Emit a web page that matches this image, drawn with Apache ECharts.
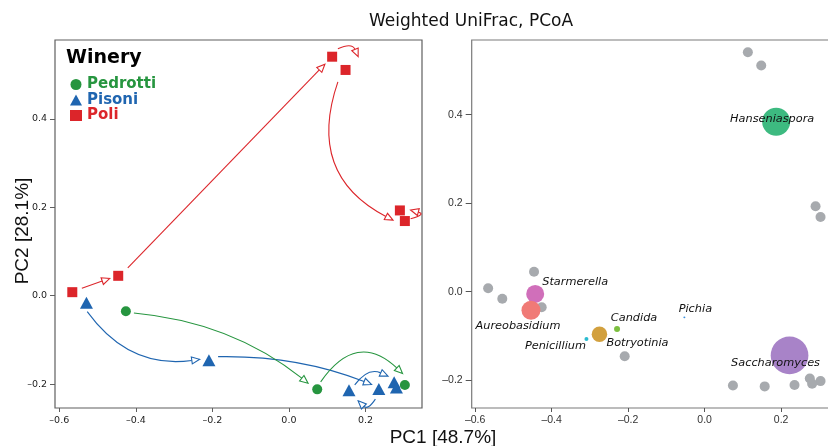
<!DOCTYPE html>
<html>
<head>
<meta charset="utf-8">
<script src="https://cdn.jsdelivr.net/npm/echarts@6/dist/echarts.min.js"></script>
<style>
  html, body { margin: 0; padding: 0; background: #fff; }
  #chart { width: 828px; height: 446px; }
</style>
</head>
<body>
<div id="chart"></div>
<script>
// samples per winery, [PC1, PC2]
const pedrotti = [[-0.426, -0.035], [0.074, -0.212], [0.303, -0.202]];
const pisoni = [[-0.529, -0.016], [-0.209, -0.146], [0.157, -0.214], [0.235, -0.211], [0.275, -0.196], [0.281, -0.208]];
const poli = [[-0.566, 0.008], [-0.446, 0.045], [0.113, 0.541], [0.148, 0.511], [0.290, 0.193], [0.303, 0.169]];

// trajectory arrows: [fromPC1, fromPC2, toPC1, toPC2, curveness]
const pedrottiArrows = [[-0.405, -0.039, 0.050, -0.198, 0.15], [0.083, -0.195, 0.297, -0.176, 0.58]];
const pisoniArrows = [[-0.527, -0.036, -0.233, -0.144, -0.3], [-0.185, -0.138, 0.216, -0.201, 0.1],
  [0.172, -0.202, 0.259, -0.182, 0.4], [0.226, -0.234, 0.181, -0.238, 0.6]];
const poliArrows = [[-0.541, 0.017, -0.468, 0.039, 0], [-0.421, 0.063, 0.094, 0.524, 0],
  [0.128, 0.559, 0.181, 0.541, 0.5], [0.128, 0.484, 0.272, 0.171, -0.43], [0.318, 0.174, 0.318, 0.194, -1.8]];

// genus biplot
const genusNames = ['Hanseniaspora', 'Starmerella', 'Aureobasidium', 'Candida', 'Botryotinia', 'Penicillium', 'Pichia', 'Saccharomyces'];
const genusPC1 = [0.187, -0.443, -0.454, -0.229, -0.275, -0.309, -0.053, 0.222];
const genusPC2 = [0.384, -0.005, -0.042, -0.084, -0.096, -0.107, -0.058, -0.144];
const genusAbundance = [0.218, 0.09, 0.1, 0.01, 0.067, 0.0044, 0.0011, 0.395];

const pc1Ticks = [-0.6, -0.4, -0.2, 0.0, 0.2];
const pc2Ticks = [-0.2, 0.0, 0.2, 0.4];

const RED = '#dc252a', BLUE = '#1f65b0', GREEN = '#26953f', GREY = '#a7aaae';
const genusColors = {
  Hanseniaspora: '#3dba80', Starmerella: '#d06fba', Aureobasidium: '#f07a76', Candida: '#7cbf3f',
  Botryotinia: '#d2a03e', Penicillium: '#2bbbd0', Pichia: '#3b90e0', Saccharomyces: '#a883c8'
};
const labelOffsets = {
  Hanseniaspora: [-4, -3], Starmerella: [40, -12], Aureobasidium: [-13, 16], Candida: [17, -10.5],
  Botryotinia: [38, 8.5], Penicillium: [-31, 7], Pichia: [11, -8], Saccharomyces: [-14, 8]
};

const fmtTick = v => (v < 0 ? '\u2013' : '') + Math.abs(v).toFixed(1);

function arrowItem(color) {
  return function (params, api) {
    const p1 = api.coord([api.value(0), api.value(1)]);
    const p2 = api.coord([api.value(2), api.value(3)]);
    const c = api.value(4);
    const cp = [(p1[0] + p2[0]) / 2 + (p2[1] - p1[1]) * c, (p1[1] + p2[1]) / 2 - (p2[0] - p1[0]) * c];
    let dx = p2[0] - cp[0], dy = p2[1] - cp[1];
    const len = Math.hypot(dx, dy) || 1;
    dx /= len; dy /= len;
    const L = 8, W = 3.5;
    const bx = p2[0] - dx * L, by = p2[1] - dy * L;
    return {
      type: 'group',
      children: [
        { type: 'bezierCurve', shape: { x1: p1[0], y1: p1[1], x2: bx, y2: by, cpx1: cp[0], cpy1: cp[1] },
          style: { stroke: color, lineWidth: 1.1, fill: null } },
        { type: 'polygon', shape: { points: [[p2[0], p2[1]], [bx - dy * W, by + dx * W], [bx + dy * W, by - dx * W]] },
          style: { fill: '#fff', stroke: color, lineWidth: 1.1 } }
      ]
    };
  };
}

function arrowSeries(data, color) {
  return {
    type: 'custom', xAxisIndex: 0, yAxisIndex: 0, renderItem: arrowItem(color),
    data: data, encode: { x: [0, 2], y: [1, 3] }, silent: true, z: 1
  };
}

const chart = echarts.init(document.getElementById('chart'));

const leftAxisLabel = { formatter: fmtTick, fontFamily: 'DejaVu Sans', fontSize: 9.5, color: '#222' };
const rightAxisLabel = { formatter: fmtTick, fontFamily: 'Liberation Sans', fontSize: 10.5, color: '#333' };
const noLine = { show: false, onZero: false };

chart.setOption({
  animation: false,
  grid: [
    { left: 55, top: 40, width: 367, height: 368, show: true, borderColor: '#5f5f5f', borderWidth: 1.2, outerBoundsMode: 'none' },
    { left: 471.7, top: 40, width: 367, height: 368, show: true, borderColor: '#7a7a7a', borderWidth: 1.2, outerBoundsMode: 'none' }
  ],
  xAxis: [
    { type: 'value', gridIndex: 0, min: -0.6112, max: 0.3478, splitLine: { show: false },
      axisLine: noLine,
      axisTick: { customValues: pc1Ticks, length: 4, lineStyle: { color: '#5f5f5f' } },
      axisLabel: Object.assign({}, leftAxisLabel, { customValues: pc1Ticks, margin: 8 }) },
    { type: 'value', gridIndex: 1, min: -0.609, max: 0.3505, splitLine: { show: false },
      axisLine: noLine,
      axisTick: { customValues: pc1Ticks, length: 4, lineStyle: { color: '#555' } },
      axisLabel: Object.assign({}, rightAxisLabel, { customValues: pc1Ticks, margin: 7 }) }
  ],
  yAxis: [
    { type: 'value', gridIndex: 0, min: -0.2542, max: 0.5788, splitLine: { show: false },
      axisLine: noLine,
      axisTick: { customValues: pc2Ticks, length: 5, lineStyle: { color: '#5f5f5f' } },
      axisLabel: Object.assign({}, leftAxisLabel, { customValues: pc2Ticks, margin: 8 }) },
    { type: 'value', gridIndex: 1, min: -0.2628, max: 0.5688, splitLine: { show: false },
      axisLine: noLine,
      axisTick: { customValues: pc2Ticks, length: 6, lineStyle: { color: '#555' } },
      axisLabel: Object.assign({}, rightAxisLabel, { customValues: pc2Ticks, margin: 9 }) }
  ],
  legend: {
    left: 65, top: 72, orient: 'vertical', itemWidth: 12, itemHeight: 11, itemGap: 0.5,
    textStyle: { fontFamily: 'DejaVu Sans', fontWeight: 'bold', fontSize: 15, lineHeight: 15 },
    data: [
      { name: 'Pedrotti', icon: 'circle', textStyle: { color: GREEN } },
      { name: 'Pisoni', icon: 'triangle', textStyle: { color: BLUE } },
      { name: 'Poli', icon: 'rect', textStyle: { color: RED } }
    ]
  },
  graphic: [
    { type: 'text', style: { text: 'Weighted UniFrac, PCoA', x: 471, y: 22, align: 'center', verticalAlign: 'middle',
        font: '17px "DejaVu Sans"', fill: '#111' } },
    { type: 'text', style: { text: 'Winery', x: 66, y: 58, align: 'left', verticalAlign: 'middle',
        font: 'bold 19px "DejaVu Sans"', fill: '#000' } },
    { type: 'text', style: { text: 'PC1 [48.7%]', x: 443, y: 438, align: 'center', verticalAlign: 'middle',
        font: '19px "Liberation Sans"', fill: '#111' } },
    { type: 'text', x: 23, y: 231, rotation: Math.PI / 2,
      style: { text: 'PC2 [28.1%]', x: 0, y: 0, align: 'center', verticalAlign: 'middle',
        font: '19px "Liberation Sans"', fill: '#111' } }
  ],
  series: [
    arrowSeries(poliArrows, RED),
    arrowSeries(pisoniArrows, BLUE),
    arrowSeries(pedrottiArrows, GREEN),
    { name: 'Pedrotti', type: 'scatter', xAxisIndex: 0, yAxisIndex: 0, data: pedrotti,
      symbol: 'circle', symbolSize: 10, itemStyle: { color: GREEN, opacity: 1 }, z: 3 },
    { name: 'Pisoni', type: 'scatter', xAxisIndex: 0, yAxisIndex: 0, data: pisoni,
      symbol: 'triangle', symbolSize: [13, 12], itemStyle: { color: BLUE, opacity: 1 }, z: 3 },
    { name: 'Poli', type: 'scatter', xAxisIndex: 0, yAxisIndex: 0, data: poli,
      symbol: 'rect', symbolSize: 10, itemStyle: { color: RED, opacity: 1 }, z: 3 },
    { name: 'samples', type: 'scatter', xAxisIndex: 1, yAxisIndex: 1,
      data: pedrotti.concat(pisoni, poli), symbolSize: 10, itemStyle: { color: GREY, opacity: 1 }, z: 2 },
    { name: 'genus', type: 'scatter', xAxisIndex: 1, yAxisIndex: 1, z: 3,
      data: genusNames.map((n, i) => ({
        name: n, value: [genusPC1[i], genusPC2[i], genusAbundance[i]],
        itemStyle: { color: genusColors[n], opacity: 1 }, label: { offset: labelOffsets[n] }
      })),
      symbolSize: v => 60 * Math.sqrt(v[2]),
      label: { show: true, position: 'inside', formatter: '{b}', fontFamily: 'DejaVu Sans', fontStyle: 'italic',
        fontSize: 11.3, color: '#111', textBorderWidth: 0 } }
  ]
});
</script>
</body>
</html>
